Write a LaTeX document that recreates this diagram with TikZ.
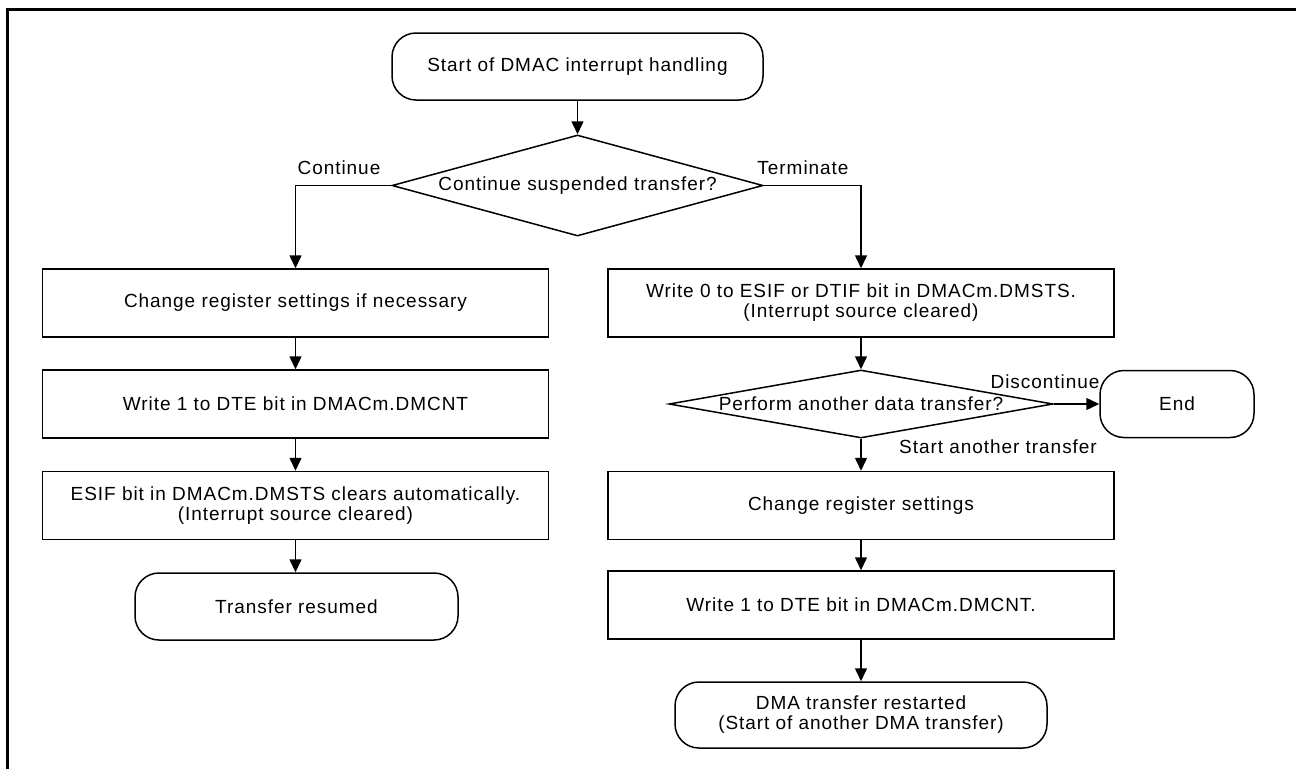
\documentclass[tikz,border=0pt]{standalone}
\usepackage{fontspec}
\newfontfamily\diagfont[LetterSpace=5]{Liberation Sans}
\usetikzlibrary{shapes.geometric,arrows.meta}
\begin{document}
\begin{tikzpicture}[x=1pt,y=-1pt,
  every node/.style={font=\diagfont\fontsize{19}{20}\selectfont},
  box/.style={draw,line width=1.5pt,minimum width=506pt,minimum height=68pt,inner sep=0pt,align=center},
  term/.style={draw,line width=1.5pt,rounded corners=24pt,minimum height=67pt,inner sep=0pt,align=center},
  dec/.style={draw,diamond,line width=1.5pt,inner sep=0pt},
  arr/.style={line width=1.5pt,-{Triangle[length=13pt,width=12pt]}},
  lbl/.style={inner sep=0pt}
]
\useasboundingbox (0,0) rectangle (1296,769);
\draw[line width=3pt] (7,769) -- (7,9.5) -- (1296,9.5);

\node[term,minimum width=371pt] (start) at (577.5,66.5) {Start of DMAC interrupt handling};
\node[dec,minimum width=371pt,minimum height=101pt] (d1) at (577.5,185.5) {\makebox[0pt]{Continue suspended transfer?}};

\node[box] (l1) at (295.5,303) {Change register settings if necessary};
\node[box] (l2) at (295.5,404) {Write 1 to DTE bit in DMACm.DMCNT};
\node[box] (l3) at (295.5,505.5) {ESIF bit in DMACm.DMSTS clears automatically.\\(Interrupt source cleared)};
\node[term,minimum width=323pt] (l4) at (296.5,606.5) {Transfer resumed};

\node[box] (r1) at (861,303) {Write 0 to ESIF or DTIF bit in DMACm.DMSTS.\\(Interrupt source cleared)};
\node[dec,minimum width=384pt,minimum height=68pt] (d2) at (861,404) {\makebox[0pt]{Perform another data transfer?}};
\node[term,minimum width=154pt] (end) at (1177,404) {End};
\node[box] (r2) at (861,505.5) {Change register settings};
\node[box] (r3) at (861,605) {Write 1 to DTE bit in DMACm.DMCNT.};
\node[term,minimum width=372pt,minimum height=66pt] (r4) at (861,715) {DMA transfer restarted\\(Start of another DMA transfer)};

\draw[arr] (start) -- (d1);
\draw[arr] (d1.west) -| (l1.north);
\draw[arr] (d1.east) -| (r1.north);
\draw[arr] (l1) -- (l2);
\draw[arr] (l2) -- (l3);
\draw[arr] (l3.south) -- (l3.south |- l4.north);
\draw[arr] (r1) -- (d2);
\draw[arr] (d2.east) -- (end.west);
\draw[arr] (d2.south) -- (r2.north);
\draw[arr] (r2) -- (r3);
\draw[arr] (r3) -- (r4);

\node[lbl] (lc) at (339,168) {Continue};
\node[lbl] (lt) at (803,168) {Terminate};
\node[lbl] (ld) at (1045,382) {Discontinue};
\node[lbl] (ls) at (998,447) {Start another transfer};
\end{tikzpicture}
\end{document}
